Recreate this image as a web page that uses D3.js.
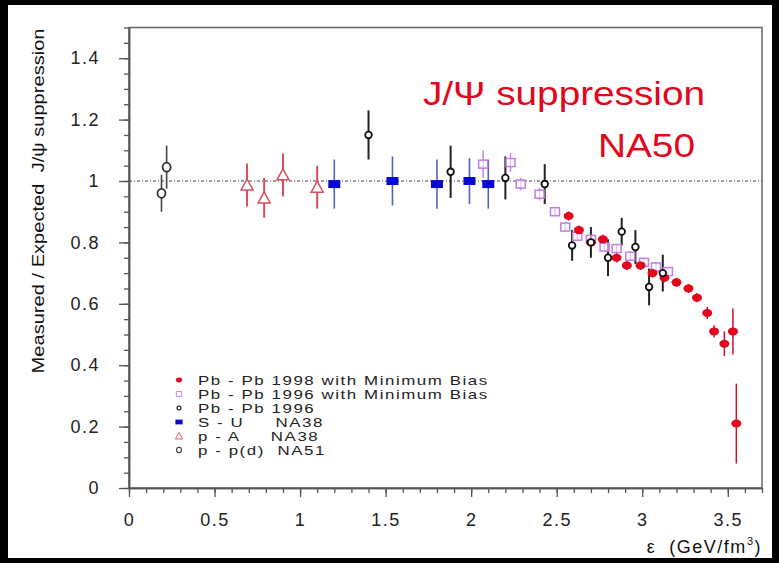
<!DOCTYPE html>
<html>
<head>
<meta charset="utf-8">
<script src="https://cdn.jsdelivr.net/npm/d3@7"></script>
<style>
  html, body { margin: 0; padding: 0; background: #000; }
  svg { display: block; font-family: "Liberation Sans", Arial, sans-serif; }
  text { white-space: pre; }
</style>
</head>
<body>
<div id="vis"></div>
<script>
// J/psi suppression, NA50 compilation

// each point: [energy density, measured/expected, error]
const pbpb98 = [
  [2.57, 0.886, 0.015], [2.63, 0.84, 0.015], [2.70, 0.80, 0.015], [2.77, 0.81, 0.015],
  [2.85, 0.75, 0.015], [2.91, 0.725, 0.015], [2.99, 0.725, 0.015], [3.06, 0.70, 0.015],
  [3.13, 0.685, 0.015], [3.20, 0.67, 0.015], [3.27, 0.65, 0.015], [3.32, 0.62, 0.015],
  [3.38, 0.57, 0.02], [3.42, 0.51, 0.02], [3.48, 0.47, 0.04], [3.53, 0.51, 0.075],
  [3.55, 0.21, 0.13]
];
const pbpb96mb = [
  [2.07, 1.055, 0.045], [2.23, 1.06, 0.03], [2.29, 0.99, 0.02], [2.40, 0.957, 0.02],
  [2.49, 0.90, 0.015], [2.55, 0.85, 0.015], [2.62, 0.82, 0.015], [2.70, 0.81, 0.015],
  [2.78, 0.785, 0.015], [2.85, 0.78, 0.015], [2.93, 0.755, 0.015], [3.01, 0.735, 0.015],
  [3.08, 0.72, 0.015], [3.15, 0.705, 0.015]
];
const pbpb96 = [
  [1.40, 1.15, 0.08], [1.88, 1.03, 0.085], [2.20, 1.01, 0.07], [2.43, 0.99, 0.065],
  [2.59, 0.79, 0.05], [2.70, 0.80, 0.05], [2.80, 0.75, 0.06], [2.88, 0.835, 0.045],
  [2.96, 0.785, 0.055], [3.04, 0.655, 0.06], [3.12, 0.70, 0.06]
];
const suNA38 = [
  [1.20, 0.99, 0.08], [1.54, 1.00, 0.08], [1.80, 0.99, 0.08], [1.99, 1.00, 0.075],
  [2.10, 0.99, 0.08]
];
const pANA38 = [
  [0.69, 0.987, 0.07], [0.79, 0.945, 0.065], [0.90, 1.02, 0.07], [1.10, 0.98, 0.07]
];
const ppNA51 = [
  [0.19, 0.96, 0.06], [0.22, 1.045, 0.07]
];

const xMajor = [0, 0.5, 1, 1.5, 2, 2.5, 3, 3.5];
const xLabels = ['0', '0.5', '1', '1.5', '2', '2.5', '3', '3.5'];
const yMajor = [0, 0.2, 0.4, 0.6, 0.8, 1, 1.2, 1.4];
const yLabels = ['0', '0.2', '0.4', '0.6', '0.8', '1', '1.2', '1.4'];

const legendLabels = [
  'Pb - Pb 1998 with Minimum Bias',
  'Pb - Pb 1996 with Minimum Bias',
  'Pb - Pb 1996',
  'S - U     NA38',
  'p - A     NA38',
  'p - p(d)  NA51'
];

const W = 779, H = 563;
const RED = '#e3061c', VIOLET = '#c07fe2', BLUE = '#0808d2', PA = '#d4505e';

const svg = d3.select('#vis').append('svg').attr('width', W).attr('height', H);

// black border + white page
svg.append('rect').attr('width', W).attr('height', H).attr('fill', '#000');
svg.append('rect').attr('x', 8).attr('y', 5).attr('width', 764).attr('height', 553).attr('fill', '#fff');

const x = d3.scaleLinear().domain([0, 3.7]).range([129, 762]);
const y = d3.scaleLinear().domain([0, 1.5]).range([488, 27.5]);

// frame
svg.append('rect')
  .attr('x', x(0)).attr('y', y(1.5))
  .attr('width', x(3.7) - x(0)).attr('height', y(0) - y(1.5))
  .attr('fill', 'none').attr('stroke', '#666').attr('stroke-width', 1.5);

// axes
const xMinor = d3.range(0, 3.71, 0.1).map(v => +v.toFixed(2));
const yMinor = d3.range(0, 1.51, 0.05).map(v => +v.toFixed(2));

const xAxisG = svg.append('g').attr('transform', `translate(0,${y(0)})`);
xAxisG.append('g').call(d3.axisBottom(x).tickValues(xMinor).tickSize(5).tickSizeOuter(0).tickFormat(''));
xAxisG.append('g').call(d3.axisBottom(x).tickValues(xMajor).tickSize(9).tickSizeOuter(0)
  .tickPadding(16).tickFormat((d, i) => xLabels[i]));

const yAxisG = svg.append('g').attr('transform', `translate(${x(0)},0)`);
yAxisG.append('g').call(d3.axisLeft(y).tickValues(yMinor).tickSize(5).tickSizeOuter(0).tickFormat(''));
yAxisG.append('g').call(d3.axisLeft(y).tickValues(yMajor).tickSize(10).tickSizeOuter(0)
  .tickPadding(19).tickFormat((d, i) => yLabels[i]));

svg.selectAll('.domain').attr('stroke', '#555').attr('stroke-width', 1.5);
svg.selectAll('.tick line').attr('stroke', '#555').attr('stroke-width', 1.3);
svg.selectAll('.tick text')
  .attr('font-size', 18).attr('fill', '#222').attr('letter-spacing', 1.5)
  .attr('font-family', '"Liberation Sans", Arial, sans-serif');

// reference line at 1
svg.append('line')
  .attr('x1', x(0)).attr('x2', x(3.7)).attr('y1', y(1)).attr('y2', y(1))
  .attr('stroke', '#444').attr('stroke-width', 1.2).attr('stroke-dasharray', '3,2,1,2');

// axis titles
svg.append('text')
  .attr('transform', `translate(44,${(y(0.37) + y(1.5)) / 2}) rotate(-90)`)
  .attr('text-anchor', 'middle').attr('font-size', 16).attr('fill', '#111')
  .attr('textLength', 345).attr('lengthAdjust', 'spacingAndGlyphs')
  .text('Measured / Expected  J/\u03c8 suppression');

const xt = svg.append('text')
  .attr('x', 762).attr('y', 553).attr('text-anchor', 'end')
  .attr('font-size', 18).attr('fill', '#111').attr('letter-spacing', 1.5);
xt.append('tspan').text('\u03b5  (GeV/fm');
xt.append('tspan').attr('font-size', 11).attr('dy', -8).text('3');
xt.append('tspan').attr('dy', 8).text(')');

// title
svg.append('text')
  .attr('x', 423).attr('y', 105).attr('font-size', 34).attr('fill', RED)
  .attr('textLength', 282).attr('lengthAdjust', 'spacingAndGlyphs')
  .text('J/\u03a8 suppression');
svg.append('text')
  .attr('x', 598).attr('y', 157).attr('font-size', 34).attr('fill', RED)
  .attr('textLength', 97).attr('lengthAdjust', 'spacingAndGlyphs')
  .text('NA50');

// error bars
function errBars(data, color, width) {
  svg.append('g').selectAll('line').data(data).join('line')
    .attr('x1', d => x(d[0])).attr('x2', d => x(d[0]))
    .attr('y1', d => y(d[1] + d[2])).attr('y2', d => y(d[1] - d[2]))
    .attr('stroke', color).attr('stroke-width', width);
}
errBars(ppNA51, '#444', 1.6);
errBars(pANA38, PA, 2);
errBars(suNA38, '#5060c8', 1.6);
errBars(pbpb96mb, VIOLET, 1.4);
errBars(pbpb98, '#cc1030', 1.5);
errBars(pbpb96, '#222', 2);

// markers
function drawMarker(g, type, cx, cy) {
  if (type === 'p98') {
    g.append('ellipse').attr('cx', cx).attr('cy', cy).attr('rx', 5).attr('ry', 4).attr('fill', RED);
  } else if (type === 'mb') {
    g.append('rect').attr('x', cx - 4.5).attr('y', cy - 4).attr('width', 9).attr('height', 8)
      .attr('fill', '#fff').attr('fill-opacity', 0.6).attr('stroke', VIOLET).attr('stroke-width', 1.5);
  } else if (type === 'p96') {
    g.append('circle').attr('cx', cx).attr('cy', cy).attr('r', 3.3)
      .attr('fill', '#fff').attr('stroke', '#111').attr('stroke-width', 1.8);
  } else if (type === 'su') {
    g.append('rect').attr('x', cx - 6).attr('y', cy - 4).attr('width', 12).attr('height', 8).attr('fill', BLUE);
  } else if (type === 'pa') {
    g.append('path').attr('d', `M${cx},${cy - 6}L${cx + 6},${cy + 5}L${cx - 6},${cy + 5}Z`)
      .attr('fill', '#fff').attr('stroke', PA).attr('stroke-width', 1.5);
  } else if (type === 'pp') {
    g.append('ellipse').attr('cx', cx).attr('cy', cy).attr('rx', 4).attr('ry', 4.5)
      .attr('fill', '#fff').attr('stroke', '#333').attr('stroke-width', 1.8);
  }
}
function drawSeries(data, type) {
  const g = svg.append('g');
  data.forEach(d => drawMarker(g, type, x(d[0]), y(d[1])));
}
drawSeries(ppNA51, 'pp');
drawSeries(pANA38, 'pa');
drawSeries(suNA38, 'su');
drawSeries(pbpb96mb, 'mb');
drawSeries(pbpb98, 'p98');
drawSeries(pbpb96, 'p96');

// legend
const legendTypes = ['p98', 'mb', 'p96', 'su', 'pa', 'pp'];
const legend = svg.append('g');
legendLabels.forEach((lab, i) => {
  const ly = 380 + i * 14;
  const mg = legend.append('g').attr('transform', `translate(179,${ly}) scale(0.6)`);
  drawMarker(mg, legendTypes[i], 0, 0);
  legend.append('text')
    .attr('transform', `translate(198,${ly + 5}) scale(1.3,1)`)
    .attr('font-size', 13).attr('fill', '#222')
    .attr('letter-spacing', 1.2).text(lab);
});
</script>
</body>
</html>
